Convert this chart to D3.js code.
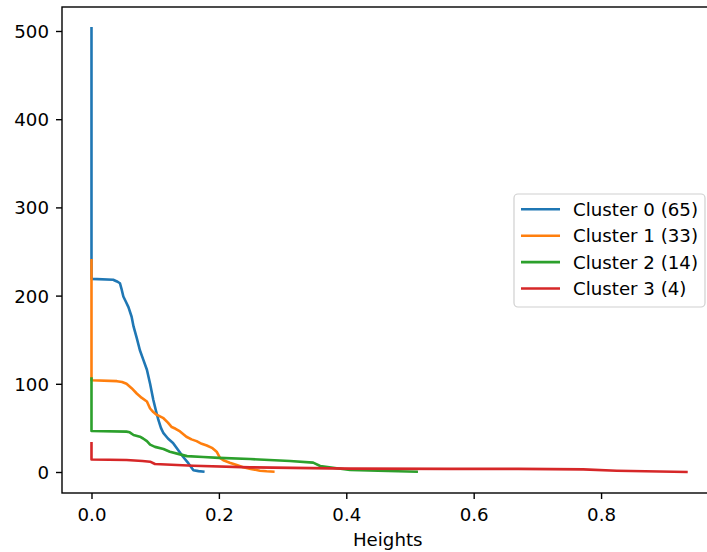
<!DOCTYPE html>
<html><head><meta charset="utf-8">
<script src="https://cdn.jsdelivr.net/npm/d3@7"></script>
<style>
html,body{margin:0;padding:0;background:#fff;}
svg{display:block;font-family:"DejaVu Sans",sans-serif;}
</style></head>
<body>
<svg id="c" width="707" height="552"></svg>
<script>
const seriesNames = ["Cluster 0 (65)", "Cluster 1 (33)", "Cluster 2 (14)", "Cluster 3 (4)"];
const colors = ["#1f77b4", "#ff7f0e", "#2ca02c", "#d62728"];
const cluster0 = [[0,503],[0,219],[0.034,218],[0.040,216],[0.0447,214],[0.047,208],[0.050,199],[0.054,193],[0.058,187],[0.063,176],[0.066,165],[0.071,152],[0.076,138],[0.081,128],[0.087,116],[0.092,100],[0.097,82],[0.101,70],[0.105,59],[0.109,50],[0.113,44],[0.120,38],[0.128,33],[0.136,25],[0.144,17],[0.152,10],[0.160,2],[0.168,1],[0.1755,0.4]];
const cluster1 = [[0,240],[0,104],[0.040,103],[0.048,102],[0.055,100],[0.063,95],[0.071,89],[0.079,84],[0.087,80],[0.092,72],[0.097,68],[0.102,65],[0.113,61],[0.120,56],[0.126,51],[0.132,49],[0.139,46],[0.149,40],[0.157,37],[0.165,35],[0.173,32],[0.181,30],[0.190,27],[0.1965,23],[0.2017,16],[0.208,13],[0.217,10.6],[0.228,8],[0.238,5.3],[0.250,3.5],[0.2645,1.5],[0.275,0.8],[0.2854,0.4]];
const cluster2 = [[0,106],[0,46.5],[0.055,45.8],[0.060,45],[0.066,42],[0.076,40],[0.081,38],[0.087,35],[0.092,31],[0.0997,28.5],[0.113,26],[0.123,23],[0.139,20],[0.150,18],[0.1755,17],[0.2,16],[0.249,14.7],[0.3116,12.5],[0.348,10.6],[0.359,6.8],[0.385,4.2],[0.406,2.3],[0.45,1.5],[0.5105,0.4]];
const cluster3 = [[0,32.5],[0,14.2],[0.055,13.6],[0.080,12.5],[0.092,11.7],[0.0997,9.1],[0.160,7.1],[0.249,5.3],[0.406,3.8],[0.563,3.6],[0.67,3.5],[0.772,3.0],[0.8245,1.5],[0.934,0]];
const xTicks = [0, 0.2, 0.4, 0.6, 0.8];
const yTicks = [0, 100, 200, 300, 400, 500];
const xLabel = "Heights";

const allSeries = [cluster0, cluster1, cluster2, cluster3];
const svg = d3.select("#c");
const L = 62, R = 713.5, T = 7, B = 493;
const x = d3.scaleLinear().domain([-0.0463, 0.9765]).range([L, R]);
const y = d3.scaleLinear().domain([-23.8, 527.2]).range([B, T]);
const fs = 18.2;

const line = d3.line().x(d => x(d[0])).y(d => y(d[1]));
allSeries.forEach((s, i) => {
  svg.append("path").datum(s).attr("d", line).attr("fill", "none")
    .attr("stroke", colors[i]).attr("stroke-width", 2.6)
    .attr("stroke-linejoin", "round").attr("stroke-linecap", "square");
});

// axes
const xa = svg.append("g").attr("transform", `translate(0,${B})`)
  .call(d3.axisBottom(x).tickValues(xTicks).tickFormat(d3.format(".1f")).tickSize(6).tickPadding(6).tickSizeOuter(0));
const ya = svg.append("g").attr("transform", `translate(${L},0)`)
  .call(d3.axisLeft(y).tickValues(yTicks).tickFormat(d3.format("d")).tickSize(6).tickPadding(6).tickSizeOuter(0));
[xa, ya].forEach(g => {
  g.select(".domain").remove();
  g.selectAll("line").attr("stroke", "#000").attr("stroke-width", 1.4);
  g.selectAll("text").attr("font-size", fs).attr("fill", "#000").attr("font-family", "DejaVu Sans");
});
xa.selectAll("text").attr("dy", null).attr("y", 28);
ya.selectAll("text").attr("dy", "0.36em").attr("x", -13);

// spines
svg.append("rect").attr("x", L).attr("y", T).attr("width", R - L).attr("height", B - T)
  .attr("fill", "none").attr("stroke", "#000").attr("stroke-width", 1.4);

svg.append("text").attr("x", (L + R) / 2).attr("y", 546).attr("text-anchor", "middle")
  .attr("font-size", fs).text(xLabel);

// legend
const lg = svg.append("g");
lg.append("rect").attr("x", 514).attr("y", 194).attr("width", 191).attr("height", 113)
  .attr("rx", 4).attr("fill", "#fff").attr("fill-opacity", 0.8)
  .attr("stroke", "#d0d0d0").attr("stroke-width", 1.2);
seriesNames.forEach((n, i) => {
  const cy = 209.3 + i * 26.4;
  lg.append("line").attr("x1", 521).attr("x2", 560).attr("y1", cy).attr("y2", cy)
    .attr("stroke", colors[i]).attr("stroke-width", 2.6);
  lg.append("text").attr("x", 573).attr("y", cy).attr("dy", "0.36em")
    .attr("font-size", fs).text(n);
});
</script>
</body></html>
